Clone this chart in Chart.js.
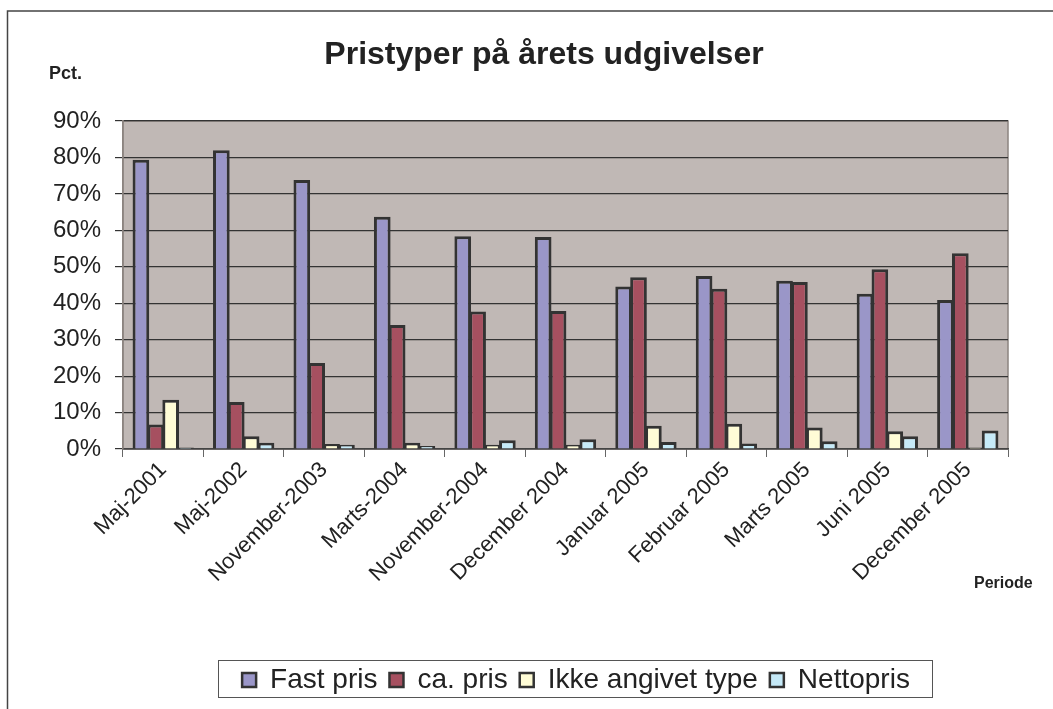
<!DOCTYPE html>
<html lang="da">
<head>
  <meta charset="UTF-8">
  <title>Pristyper på årets udgivelser</title>
  <script src="https://cdn.jsdelivr.net/npm/chart.js"></script>
  <style>
    body { margin: 0; background: #fff; }
    #wrap { width: 1053px; height: 709px; position: relative; }
  </style>
</head>
<body>
  <div id="wrap">
    <canvas id="prisChart" width="1053" height="709"></canvas>
  </div>

  <script>
    // kategorier og serier (procent)
    const periods = ['Maj-2001', 'Maj-2002', 'November-2003', 'Marts-2004', 'November-2004',
      'December 2004', 'Januar 2005', 'Februar 2005', 'Marts 2005', 'Juni 2005', 'December 2005'];
    const fastPris = [79.4, 82.0, 73.8, 63.7, 58.4, 58.2, 44.6, 47.5, 46.2, 42.6, 40.9];
    const caPris = [6.7, 12.9, 23.6, 34.0, 37.7, 37.9, 47.1, 44.0, 45.8, 49.3, 53.7];
    const ikkeAngivet = [13.5, 3.5, 1.4, 1.7, 1.2, 1.2, 6.4, 6.9, 5.9, 4.9, 0.4];
    const nettoPris = [0.4, 1.7, 1.2, 0.8, 2.4, 2.7, 1.9, 1.5, 2.1, 3.5, 5.1];
    const yTicks = [0, 10, 20, 30, 40, 50, 60, 70, 80, 90];

    const font = 'Liberation Sans, Arial, sans-serif';

    // baggrund, ramme, titel og aksetekster
    const decor = {
      id: 'decor',
      afterLayout(chart) {
        // flyt forklaringen så den står under plotområdet som i originalen
        const lg = chart.legend;
        if (lg) { lg.left += 72; lg.right += 72; }
      },
      beforeDraw(chart) {
        const ctx = chart.ctx;
        const a = chart.chartArea;
        ctx.save();
        ctx.fillStyle = '#fff';
        ctx.fillRect(0, 0, chart.width, chart.height);
        ctx.fillStyle = '#c0b8b5';
        ctx.fillRect(a.left, a.top, a.right - a.left, a.bottom - a.top);
        ctx.strokeStyle = '#8c8480';
        ctx.lineWidth = 1.5;
        ctx.strokeRect(a.left, a.top, a.right - a.left, a.bottom - a.top);
        // ydre ramme (kun top og venstre synlig)
        ctx.strokeStyle = '#444';
        ctx.lineWidth = 1.5;
        ctx.beginPath();
        ctx.moveTo(7.5, chart.height);
        ctx.lineTo(7.5, 11);
        ctx.lineTo(chart.width, 11);
        ctx.stroke();
        ctx.fillStyle = '#222';
        ctx.textBaseline = 'alphabetic';
        ctx.textAlign = 'center';
        ctx.font = 'bold 32px ' + font;
        ctx.fillText('Pristyper på årets udgivelser', 544, 64);
        ctx.textAlign = 'left';
        ctx.font = 'bold 18px ' + font;
        ctx.fillText('Pct.', 49, 79);
        ctx.font = 'bold 16px ' + font;
        ctx.fillText('Periode', 974, 588);
        ctx.restore();
      },
      afterDraw(chart) {
        const ctx = chart.ctx;
        ctx.save();
        ctx.strokeStyle = '#555';
        ctx.lineWidth = 1;
        ctx.strokeRect(218.5, 660.5, 714, 37);
        ctx.restore();
      }
    };

    const mkSet = (label, data, color) => ({
      label, data,
      backgroundColor: color,
      borderColor: '#333',
      borderWidth: 3,
      borderSkipped: 'bottom'
    });

    new Chart(document.getElementById('prisChart'), {
      type: 'bar',
      data: {
        labels: periods,
        datasets: [
          mkSet('Fast pris', fastPris, '#9a96c8'),
          mkSet('ca. pris', caPris, '#a65060'),
          mkSet('Ikke angivet type', ikkeAngivet, '#fffcd6'),
          mkSet('Nettopris', nettoPris, '#c6eaf8')
        ]
      },
      options: {
        responsive: false,
        animation: false,
        layout: { padding: { top: 121, left: 0, right: 45, bottom: 5 } },
        datasets: { bar: { categoryPercentage: 0.74, barPercentage: 1.12 } },
        plugins: {
          title: { display: false },
          tooltip: { enabled: false },
          legend: {
            position: 'bottom',
            labels: {
              color: '#222',
              font: { family: font, size: 28 },
              boxWidth: 14,
              boxHeight: 14,
              padding: 12,
              generateLabels(chart) {
                return chart.data.datasets.map((ds, i) => ({
                  text: ds.label,
                  fillStyle: ds.backgroundColor,
                  strokeStyle: '#333',
                  lineWidth: 2.5,
                  datasetIndex: i,
                  fontColor: '#222'
                }));
              }
            }
          }
        },
        scales: {
          x: {
            grid: {
              offset: true,
              drawOnChartArea: false,
              color: '#666',
              tickLength: 8
            },
            border: { color: '#444', width: 1.5 },
            ticks: {
              color: '#222',
              font: { family: font, size: 22 },
              minRotation: 45,
              maxRotation: 45,
              autoSkip: false,
              padding: 0
            },
            afterFit(scale) { scale.height = 205; }
          },
          y: {
            min: 0,
            max: 90,
            afterBuildTicks(scale) { scale.ticks = yTicks.map(v => ({ value: v })); },
            grid: {
              color: '#333',
              lineWidth: 1.2,
              tickLength: 8
            },
            border: { color: '#8c8480', width: 1.5 },
            ticks: {
              color: '#222',
              font: { family: font, size: 24 },
              padding: 14,
              callback: v => v + '%'
            },
            afterFit(scale) { scale.width = 123; }
          }
        }
      },
      plugins: [decor]
    });
  </script>
</body>
</html>
